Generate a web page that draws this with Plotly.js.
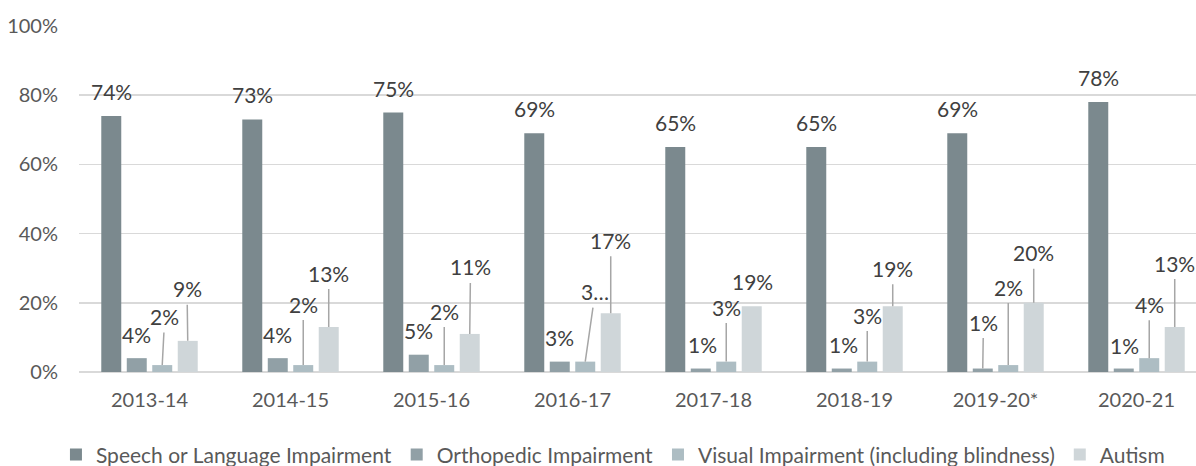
<!DOCTYPE html>
<html>
<head>
<meta charset="utf-8">
<script src="https://cdn.plot.ly/plotly-3.0.1.min.js"></script>
<style>
  html, body { margin: 0; padding: 0; background: #ffffff; }
  #chart { width: 1196px; height: 466px; }
</style>
</head>
<body>
<div id="chart"></div>
<script>
// ---- Data ----
const categories = ['2013-14', '2014-15', '2015-16', '2016-17', '2017-18', '2018-19', '2019-20*', '2020-21'];
const seriesNames = ['Speech or Language Impairment', 'Orthopedic Impairment', 'Visual Impairment (including blindness)', 'Autism'];
const speech = [74, 73, 75, 69, 65, 65, 69, 78];
const orthopedic = [4, 4, 5, 3, 1, 1, 1, 1];
const visual = [2, 2, 2, 3, 3, 3, 2, 4];
const autism = [9, 13, 11, 17, 19, 19, 20, 13];
const yTickValues = [0, 20, 40, 60, 80, 100];
const yTickLabels = ['0%', '20%', '40%', '60%', '80%', '100%'];
// label text shown truncated in the original (series index, category index)
const labelOverrides = { '2-3': '3…' };

// ---- Styles / layout (not data) ----
const colors = ['#7b898e', '#91a0a6', '#adbdc3', '#cfd6d9'];
const FONT = 'Lato, "Open Sans", sans-serif';
const W = 1196, H = 466;
const M = { l: 79, r: 0, t: 26, b: 94 };
const BARGAP = 0.277, BARGROUPGAP = 0.216;
const X_RANGE = [-0.5, 7.422];

// label placement relative to bar top (pixels): [dx, dy, leaderLine]
const placement = [
  [[0,-24.5,0],[0,-24.5,0],[0,-24.5,0],[0,-24.5,0],[0,-24.5,0],[0,-24.5,0],[0,-24.5,0],[0,-24.5,0]],
  [[0,-23.5,0],[0,-23.5,0],[0,-24,0],[0,-24,0],[1.5,-24.5,0],[1.5,-24.5,0],[0.7,-46.5,1],[0.7,-23.5,0]],
  [[2.5,-48.5,1],[0,-61,1],[0,-54,1],[10,-70,1],[0,-54.5,1],[0,-46.5,1],[0,-78,1],[0,-54,1]],
  [[-0.7,-52,1],[0,-54,1],[0.8,-67,1],[0,-73,1],[0.8,-24.5,0],[0,-38,1],[0,-50,1],[0,-64,1]]
];

const seriesValues = [speech, orthopedic, visual, autism];

const traces = seriesValues.map((vals, s) => ({
  type: 'bar',
  name: seriesNames[s],
  x: categories,
  y: vals,
  marker: { color: colors[s], line: { width: 0 } },
  hoverinfo: 'x+y+name'
}));

// pixel geometry for label offsets
const plotW = W - M.l - M.r;
const catPx = plotW / (X_RANGE[1] - X_RANGE[0]);
const slotPx = catPx * (1 - BARGAP) / 4;
const barOffset = [0, 1, 2, 3].map(k => (k - 1.5) * slotPx);

const annotations = [];
seriesValues.forEach((vals, s) => {
  vals.forEach((v, i) => {
    const [dx, dy, line] = placement[s][i];
    const key = s + '-' + i;
    const txt = labelOverrides[key] !== undefined ? labelOverrides[key] : (v + '%');
    const base = {
      x: categories[i], y: v, xref: 'x', yref: 'y',
      text: txt,
      font: { family: FONT, size: 21, color: '#404040' },
      xshift: barOffset[s]
    };
    if (line) {
      annotations.push(Object.assign(base, {
        showarrow: true, arrowhead: 0, arrowwidth: 1.5, arrowcolor: '#a6a6a6',
        standoff: 0, ax: dx, ay: dy, borderpad: 3
      }));
    } else {
      annotations.push(Object.assign(base, {
        showarrow: false, xanchor: 'center', yanchor: 'middle',
        xshift: barOffset[s] + dx, yshift: -dy
      }));
    }
  });
});

const layout = {
  width: W, height: H,
  margin: M,
  paper_bgcolor: '#ffffff',
  plot_bgcolor: '#ffffff',
  barmode: 'group',
  bargap: BARGAP,
  bargroupgap: BARGROUPGAP,
  font: { family: FONT, size: 20, color: '#595959' },
  xaxis: {
    type: 'category',
    range: X_RANGE,
    showgrid: false,
    zeroline: false,
    showline: false,
    ticks: '',
    ticklabelstandoff: 14,
    tickfont: { family: FONT, size: 20, color: '#595959' },
    fixedrange: true
  },
  yaxis: {
    range: [0, 100],
    tickvals: yTickValues,
    ticktext: yTickLabels,
    showgrid: true,
    gridcolor: '#d9d9d9',
    gridwidth: 1.5,
    zeroline: true,
    zerolinecolor: '#d9d9d9',
    zerolinewidth: 1.5,
    showline: false,
    ticks: '',
    ticklabelstandoff: 20,
    tickfont: { family: FONT, size: 20, color: '#595959' },
    fixedrange: true
  },
  legend: {
    orientation: 'h',
    xref: 'container', yref: 'container',
    x: 0.5125, xanchor: 'center',
    y: 0.024, yanchor: 'middle',
    font: { family: FONT, size: 21, color: '#595959' },
    itemwidth: 30,
    traceorder: 'normal'
  },
  showlegend: true,
  annotations: annotations
};

Plotly.newPlot('chart', traces, layout, { displayModeBar: false, staticPlot: true });
</script>
</body>
</html>
